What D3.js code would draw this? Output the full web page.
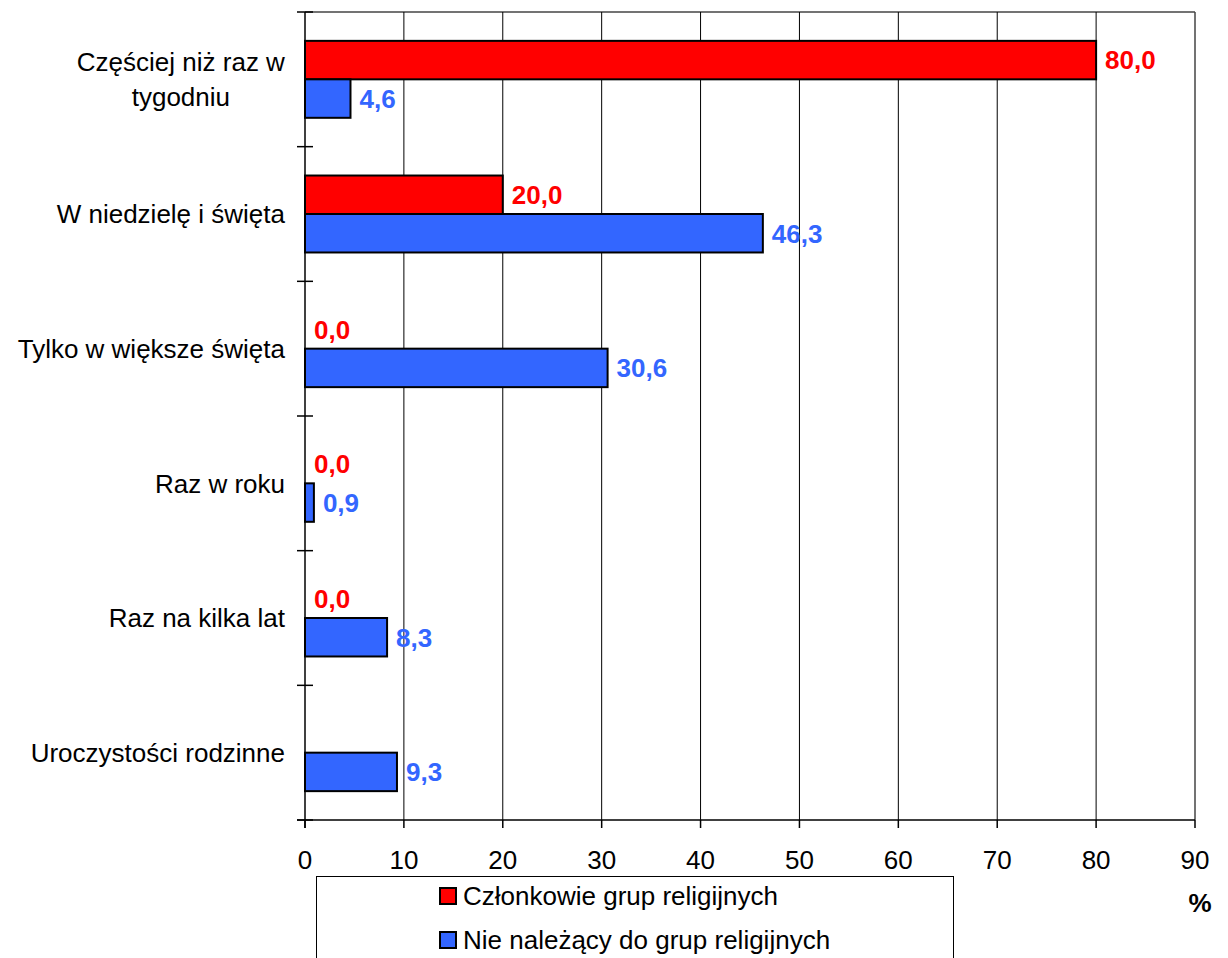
<!DOCTYPE html>
<html lang="pl">
	<head>
		<meta charset="UTF-8" />
		<title>Chart</title>
		<style>
			body { margin: 0; background: #fff; }
			svg { display: block; font-family: 'Liberation Sans', Arial, sans-serif; }
		</style>
	</head>
	<body>
		<div id="chart"></div>
		<script src="https://cdnjs.cloudflare.com/ajax/libs/d3/7.8.5/d3.min.js"></script>
		<script>
			var categories = [
				['Częściej niż raz w', 'tygodniu'],
				['W niedzielę i święta'],
				['Tylko w większe święta'],
				['Raz w roku'],
				['Raz na kilka lat'],
				['Uroczystości rodzinne']
			];
			var seriesNames = ['Członkowie grup religijnych', 'Nie należący do grup religijnych'];
			var members = [80.0, 20.0, 0.0, 0.0, 0.0, null];
			var nonMembers = [4.6, 46.3, 30.6, 0.9, 8.3, 9.3];
			var xTicks = [0, 10, 20, 30, 40, 50, 60, 70, 80, 90];

			var width = 1228;
			var height = 958;
			var plotLeft = 305, plotRight = 1195, plotTop = 12, plotBottom = 820;
			var fills = ['#FF0000', '#3366FF'];
			var labelColors = ['#FF0000', '#3366FF'];
			var fs = '26px';

			var svg = d3.select('#chart').append('svg')
				.attr('width', width)
				.attr('height', height);

			var x = d3.scaleLinear().domain([0, 90]).range([plotLeft, plotRight]);
			var keys = categories.map(function (d, i) { return i; });
			var y = d3.scaleBand().domain(keys).range([plotTop, plotBottom]).padding(0);
			var ySub = d3.scaleBand().domain([0, 1]).range([0, y.bandwidth()])
				.paddingInner(0).paddingOuter(0.75);

			// plot border (top/right) and gridlines
			svg.append('line')
				.attr('x1', plotLeft).attr('x2', plotRight).attr('y1', plotTop).attr('y2', plotTop)
				.attr('stroke', '#444').attr('stroke-width', 1.5);
			svg.selectAll('.grid')
				.data(xTicks.slice(1))
				.enter()
				.append('line')
				.attr('class', 'grid')
				.attr('x1', function (d) { return x(d); })
				.attr('x2', function (d) { return x(d); })
				.attr('y1', plotTop)
				.attr('y2', plotBottom)
				.attr('stroke', function (d) { return d === 90 ? '#444' : '#000'; })
				.attr('stroke-width', function (d) { return d === 90 ? 1.5 : 1; });

			// bars
			var rows = categories.map(function (c, i) {
				return { i: i, values: [members[i], nonMembers[i]] };
			});
			var groups = svg.selectAll('.grp')
				.data(rows)
				.enter()
				.append('g')
				.attr('class', 'grp')
				.attr('transform', function (d) { return 'translate(0,' + y(d.i) + ')'; });

			groups.selectAll('rect')
				.data(function (d) {
					return d.values.map(function (v, s) { return { s: s, v: v }; })
						.filter(function (e) { return e.v !== null && e.v > 0; });
				})
				.enter()
				.append('rect')
				.attr('x', x(0))
				.attr('y', function (d) { return ySub(d.s); })
				.attr('width', function (d) { return x(d.v) - x(0); })
				.attr('height', ySub.bandwidth())
				.attr('fill', function (d) { return fills[d.s]; })
				.attr('stroke', '#000')
				.attr('stroke-width', 2);

			groups.selectAll('text.val')
				.data(function (d) {
					return d.values.map(function (v, s) { return { s: s, v: v }; })
						.filter(function (e) { return e.v !== null; });
				})
				.enter()
				.append('text')
				.attr('class', 'val')
				.attr('x', function (d) { return x(d.v) + 9; })
				.attr('y', function (d) { return ySub(d.s) + ySub.bandwidth() / 2; })
				.attr('dy', '0.36em')
				.attr('fill', function (d) { return labelColors[d.s]; })
				.style('font-size', fs)
				.style('font-weight', 'bold')
				.text(function (d) { return d.v.toFixed(1).replace('.', ','); });

			// axes
			svg.append('line')
				.attr('x1', plotLeft).attr('x2', plotLeft).attr('y1', plotTop).attr('y2', plotBottom + 8)
				.attr('stroke', '#000').attr('stroke-width', 1.5);
			svg.append('line')
				.attr('x1', plotLeft - 8).attr('x2', plotRight).attr('y1', plotBottom).attr('y2', plotBottom)
				.attr('stroke', '#000').attr('stroke-width', 1.5);
			svg.selectAll('.ytick')
				.data(keys.concat([keys.length]))
				.enter()
				.append('line')
				.attr('class', 'ytick')
				.attr('x1', plotLeft - 8).attr('x2', plotLeft + 8)
				.attr('y1', function (d) { return d < keys.length ? y(d) : plotBottom; })
				.attr('y2', function (d) { return d < keys.length ? y(d) : plotBottom; })
				.attr('stroke', '#000').attr('stroke-width', 1.5);
			svg.selectAll('.xtick')
				.data(xTicks)
				.enter()
				.append('line')
				.attr('class', 'xtick')
				.attr('x1', function (d) { return x(d); })
				.attr('x2', function (d) { return x(d); })
				.attr('y1', plotBottom).attr('y2', plotBottom + 8)
				.attr('stroke', '#000').attr('stroke-width', 1.5);
			svg.selectAll('.xlab')
				.data(xTicks)
				.enter()
				.append('text')
				.attr('class', 'xlab')
				.attr('x', function (d) { return x(d); })
				.attr('y', 860)
				.attr('dy', '0.36em')
				.attr('text-anchor', 'middle')
				.style('font-size', fs)
				.text(function (d) { return d; });

			svg.append('text')
				.attr('x', 1200).attr('y', 903)
				.attr('dy', '0.36em')
				.attr('text-anchor', 'middle')
				.style('font-size', fs)
				.style('font-weight', 'bold')
				.text('%');

			// category labels: single lines right aligned, wrapped lines centered in block
			var lineH = 35;
			var catLab = svg.selectAll('.cat')
				.data(categories)
				.enter()
				.append('text')
				.attr('class', 'cat')
				.style('font-size', fs)
				.attr('fill', '#000');
			catLab.each(function (lines, i) {
				var t = d3.select(this);
				var cy = y(i) + y.bandwidth() / 2;
				var y0 = cy - (lines.length - 1) * lineH / 2;
				lines.forEach(function (l, k) {
					t.append('tspan').attr('x', 0).attr('y', y0 + k * lineH).attr('dy', '0.36em').text(l);
				});
				var w = this.getBBox().width;
				var anchorX = lines.length > 1 ? 285 - w / 2 : 285;
				t.attr('text-anchor', lines.length > 1 ? 'middle' : 'end');
				t.selectAll('tspan').attr('x', anchorX);
			});

			// legend
			svg.append('rect')
				.attr('x', 316.5).attr('y', 876.5)
				.attr('width', 637).attr('height', 140)
				.attr('fill', '#fff')
				.attr('stroke', '#000')
				.attr('stroke-width', 1);
			var legend = svg.selectAll('.legend')
				.data(seriesNames)
				.enter()
				.append('g')
				.attr('class', 'legend')
				.attr('transform', function (d, i) { return 'translate(440,' + (888 + i * 44) + ')'; });
			legend.append('rect')
				.attr('width', 16).attr('height', 16)
				.attr('fill', function (d, i) { return fills[i]; })
				.attr('stroke', '#000')
				.attr('stroke-width', 2);
			legend.append('text')
				.attr('x', 23).attr('y', 8)
				.attr('dy', '0.36em')
				.style('font-size', fs)
				.text(function (d) { return d; });
		</script>
	</body>
</html>
